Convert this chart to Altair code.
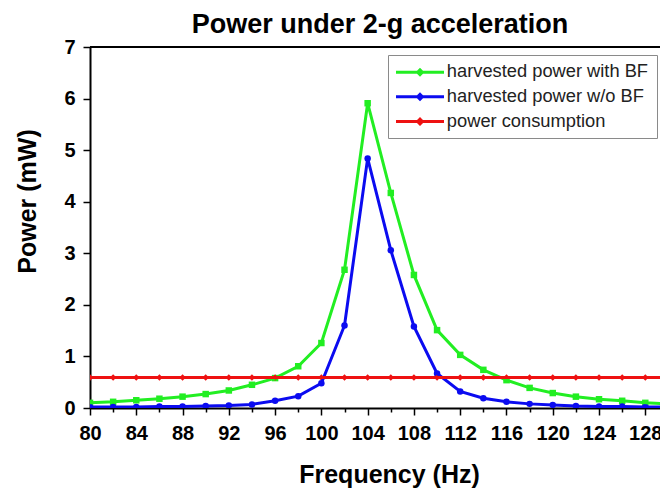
import altair as alt
import pandas as pd

# ---- data ----
freq = [80, 82, 84, 86, 88, 90, 92, 94, 96, 98, 100, 102, 104,
        106, 108, 110, 112, 114, 116, 118, 120, 122, 124, 126, 128, 130]
power_bf = [0.10, 0.12, 0.15, 0.18, 0.22, 0.27, 0.34, 0.45, 0.58, 0.81, 1.26, 2.68, 5.91,
            4.17, 2.58, 1.51, 1.03, 0.74, 0.54, 0.39, 0.29, 0.22, 0.17, 0.14, 0.10, 0.08]
power_nobf = [0.02, 0.02, 0.02, 0.03, 0.03, 0.04, 0.05, 0.07, 0.14, 0.23, 0.48, 1.60, 4.84,
              3.06, 1.58, 0.67, 0.32, 0.19, 0.12, 0.08, 0.06, 0.04, 0.03, 0.03, 0.02, 0.02]
power_cons = [0.59, 0.59, 0.59, 0.59, 0.59, 0.59, 0.59, 0.59, 0.59, 0.59, 0.59, 0.59, 0.59,
              0.59, 0.59, 0.59, 0.59, 0.59, 0.59, 0.59, 0.59, 0.59, 0.59, 0.59, 0.59, 0.59]

series_names = ["harvested power with BF", "harvested power w/o BF", "power consumption"]
series_colors = ["#22ee22", "#0b0bf0", "#ee1111"]
marker_names = ["m_bf", "m_nobf", "m_cons"]
series_shapes = ["square", "circle", "diamond"]

x_ticks = [80, 82, 84, 86, 88, 90, 92, 94, 96, 98, 100, 102, 104, 106, 108, 110,
           112, 114, 116, 118, 120, 122, 124, 126, 128]
y_ticks = [0, 0.5, 1, 1.5, 2, 2.5, 3, 3.5, 4, 4.5, 5, 5.5, 6, 6.5, 7]

rows = []
for name, mk, vals in zip(series_names, marker_names, [power_bf, power_nobf, power_cons]):
    for f, v in zip(freq, vals):
        rows.append({"freq": f, "power": v, "series": name, "marker": mk})
df = pd.DataFrame(rows)

FONT = "Liberation Sans"

x_axis = alt.Axis(
    values=x_ticks,
    labelExpr="datum.value % 4 === 0 ? format(datum.value, 'd') : ''",
    labelOverlap=False, labelFlush=False,
    labelFont=FONT, labelFontSize=20, labelFontWeight="bold", labelColor="black",
    labelPadding=8,
    tickSize={"condition": {"test": "datum.value % 4 !== 0", "value": 4}, "value": 7},
    tickColor="black", tickWidth=1.5,
    domainColor="black", domainWidth=2,
    grid=False,
    title="Frequency (Hz)", titleFont=FONT, titleFontSize=25, titleFontWeight="bold",
    titleColor="black", titleX=299, titleY=74, titleBaseline="alphabetic",
)
y_axis = alt.Axis(
    values=y_ticks,
    labelExpr="datum.value % 1 === 0 ? format(datum.value, 'd') : ''",
    labelOverlap=False, labelFlush=False,
    labelFont=FONT, labelFontSize=20, labelFontWeight="bold", labelColor="black",
    labelPadding=8,
    tickSize={"condition": {"test": "datum.value % 1 !== 0", "value": 4}, "value": 7},
    tickColor="black", tickWidth=1.5,
    domainColor="black", domainWidth=2,
    grid=False,
    title="Power (mW)", titleFont=FONT, titleFontSize=25, titleFontWeight="bold",
    titleColor="black", titleX=-55, titleY=154, titleBaseline="alphabetic", titleAngle=270,
)

legend_path = ("M-4.8,-0.3L4.8,-0.3L4.8,0.3L-4.8,0.3Z "
               "M0,-0.9L0.9,0L0,0.9L-0.9,0Z")

legend = alt.Legend(
    title=None, orient="none", legendX=298, legendY=8,
    direction="vertical",
    symbolType=legend_path, symbolSize=100, symbolStrokeWidth=0,
    symbolOffset=14.85, labelOffset=17.7, symbolOpacity=1,
    labelFont=FONT, labelFontSize=18.3, labelColor="#222222", labelLimit=400,
    rowPadding=5.7, padding=8,
    fillColor="white", strokeColor="#8a8a8a", cornerRadius=0,
)

x_enc = alt.X("freq:Q", scale=alt.Scale(domain=[80, 129.27], nice=False, zero=False), axis=x_axis)
y_enc = alt.Y("power:Q", scale=alt.Scale(domain=[0, 7], nice=False, zero=False), axis=y_axis)
color_enc = alt.Color("series:N", scale=alt.Scale(domain=series_names, range=series_colors),
                      legend=legend, sort=series_names)

base = alt.Chart(df).encode(x=x_enc, y=y_enc)

lines = base.mark_line(strokeWidth=3, clip=True).encode(color=color_enc)
points = base.mark_point(filled=True, size=42, opacity=1, clip=True).encode(
    color=color_enc,
    shape=alt.Shape("marker:N", scale=alt.Scale(domain=marker_names, range=series_shapes), legend=None)
)
top_border = alt.Chart(pd.DataFrame({"top": [7]})).mark_rule(color="black", strokeWidth=2).encode(
    y=alt.Y("top:Q")
)

chart = alt.layer(points, lines, top_border).properties(
    width=570, height=361,
    title=alt.TitleParams("Power under 2-g acceleration", font=FONT, fontSize=27,
                          fontWeight="bold", color="black", anchor="middle",
                          baseline="bottom", offset=6, dx=5, dy=35),
    autosize=alt.AutoSizeParams(type="none"),
    padding={"left": 90, "top": 47, "right": 0, "bottom": 81},
    background="white",
).configure_view(stroke=None)

chart.save("out.html", embed_options={"renderer": "svg", "actions": False})
